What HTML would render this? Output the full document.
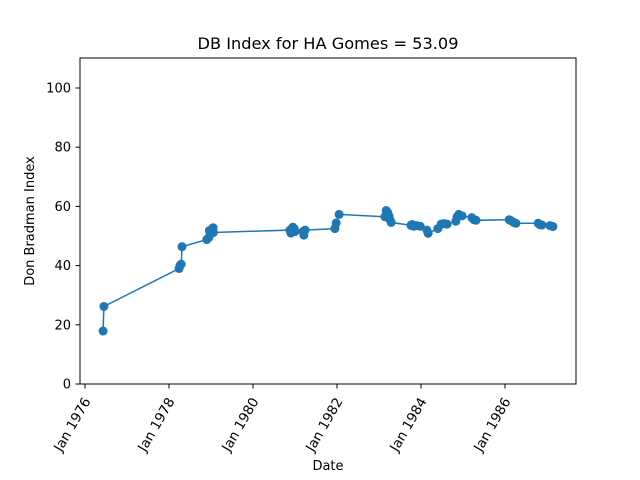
<!DOCTYPE html>
<html><head><meta charset="utf-8"><style>
body{margin:0;background:#fff}
svg{display:block;font-family:"DejaVu Sans","Liberation Sans",sans-serif}
</style></head><body>
<svg id="chart" width="640" height="480">
<rect width="640" height="480" fill="#fff"/>
<text x="328" y="49" font-size="16.2" text-anchor="middle">DB Index for HA Gomes = 53.09</text>
<text x="328" y="470" font-size="13" text-anchor="middle">Date</text>
<text transform="translate(34,221) rotate(-90)" font-size="13" text-anchor="middle">Don Bradman Index</text>
<g id="ticks"></g>
<g id="marks"></g>
<rect x="80" y="58" width="496" height="326" fill="none" stroke="#000" stroke-width="1"/>
</svg>
<script>
const years=[1976.43,1976.45,1978.24,1978.26,1978.29,1978.31,1978.90,1978.95,1978.96,1979.00,1979.02,1979.05,1979.06,1980.88,1980.90,1980.95,1980.98,1981.00,1981.19,1981.21,1981.24,1981.95,1981.98,1982.05,1983.14,1983.17,1983.21,1983.24,1983.26,1983.29,1983.76,1983.79,1983.83,1983.90,1983.98,1984.14,1984.17,1984.40,1984.48,1984.55,1984.62,1984.83,1984.86,1984.90,1984.98,1985.21,1985.26,1985.31,1986.10,1986.14,1986.21,1986.26,1986.79,1986.83,1986.88,1987.07,1987.14];
const values=[17.9,26.2,39,40,40.5,46.4,48.8,49.5,51.8,51,52.2,52.8,51.2,52,51,53,52.5,51.5,51.5,50.3,52,52.5,54.4,57.3,56.5,58.6,57.8,56.7,55.5,54.6,53.6,53.9,53.3,53.5,53.3,52,50.9,52.5,54,54.2,54,55,56.5,57.3,56.8,56.2,55.5,55.3,55.5,55.2,54.6,54.3,54.3,53.8,53.7,53.5,53.2];
const xTicks=[1976,1978,1980,1982,1984,1986];
const xTickLabels=["Jan 1976","Jan 1978","Jan 1980","Jan 1982","Jan 1984","Jan 1986"];
const yTicks=[0,20,40,60,80,100];
const NS="http://www.w3.org/2000/svg";
function xs(v){return 85+(v-1976)*42;}
function ys(v){return 384-v*(296/100);}
function mk(t,a,p){const e=document.createElementNS(NS,t);for(const k in a)e.setAttribute(k,a[k]);p.appendChild(e);return e;}
const tg=document.getElementById('ticks'),mg=document.getElementById('marks');
xTicks.forEach((t,i)=>{const x=xs(t);
const l=mk('line',{x1:x,x2:x,y1:384,y2:388.5,stroke:'#000'},tg);


const tx=mk('text',{x:0,y:0,'font-size':13.5,'text-anchor':'end',transform:`translate(${x+6},${401}) rotate(-60)`},tg);
tx.textContent=xTickLabels[i];

});
yTicks.forEach(t=>{const y=ys(t);
const l=mk('line',{x1:75.5,x2:80,y1:y,y2:y,stroke:'#000'},tg);


const tx=mk('text',{x:71,y:y+4.5,'font-size':13,'text-anchor':'end'},tg);
tx.textContent=t;

});
const pts=years.map((y,i)=>xs(y)+','+ys(values[i])).join(' ');
const pl=mk('polyline',{points:pts,fill:'none',stroke:'#1f77b4','stroke-width':1.5},mg);


years.forEach((y,i)=>{const c=mk('circle',{cx:xs(y),cy:ys(values[i]),r:4.5,fill:'#1f77b4'},mg);

});
</script>
</body></html>
